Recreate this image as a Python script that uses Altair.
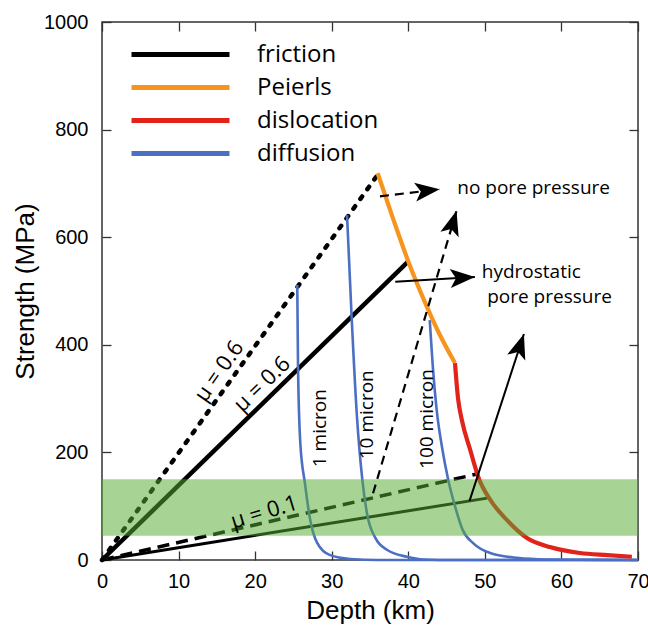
import math
import altair as alt
import pandas as pd

W, H = 536, 538
XMAX, YMAX = 70, 1000

# ---------------- data ----------------
x_ticks = [0, 10, 20, 30, 40, 50, 60, 70]
y_ticks = [0, 200, 400, 600, 800, 1000]

# friction (mu = 0.6 / 0.1, no pore pressure / hydrostatic)
fr_nopore_06_x = [0, 36.0]
fr_nopore_06_y = [0, 716]
fr_hydro_06_x = [0, 40.0]
fr_hydro_06_y = [0, 555]
fr_nopore_01_x = [0, 49.0]
fr_nopore_01_y = [0, 160]
fr_hydro_01_x = [0, 50.3]
fr_hydro_01_y = [0, 115]

# Peierls and dislocation creep
peierls_x = [36.0, 38.0, 40.0, 42.0, 44.0, 46.1]
peierls_y = [719, 635, 555, 485, 422, 366]
disloc_x = [46.1, 46.5, 47.0, 48.1, 49.2, 50.7, 52.9, 55.5, 58.5, 62.4, 66.0, 69.2]
disloc_y = [366, 300, 260, 204, 152, 112, 74, 41, 24, 13, 9, 6]

# diffusion creep for three grain sizes
diff1_x = [25.5, 25.6, 25.9, 26.5, 27.2, 28.1, 29.8, 32.4, 36.0, 70.0]
diff1_y = [511, 359, 217, 143, 74, 32, 9, 2, 0, 0]
diff10_x = [32.0, 32.6, 33.3, 34.0, 34.6, 35.7, 37.2, 39.8, 42.0, 46.0, 70.0]
diff10_y = [641, 452, 266, 149, 87, 41, 19, 6, 1, 0, 0]
diff100_x = [42.8, 43.2, 43.7, 44.4, 45.2, 46.2, 47.1, 48.5, 50.7, 54.2, 58.0, 70.0]
diff100_y = [446, 360, 280, 210, 150, 95, 56, 31, 13, 4, 1, 0]

mechanisms = ["friction", "Peierls", "dislocation", "diffusion"]
mech_colors = ["#000000", "#f7941d", "#e2231a", "#4b6fc2"]

# green band
band_lo, band_hi = 45, 150

# arrows (start -> tip)
arrow_x1 = [36.3, 35.4, 38.3, 48.0]
arrow_y1 = [676, 124, 517, 110]
arrow_x2 = [44.1, 46.3, 48.7, 55.1]
arrow_y2 = [689, 649, 526, 420]
arrow_dashed = [True, True, False, False]

# text annotations
note_text = ["no pore pressure", "hydrostatic", "pore pressure"]
note_x = [46.4, 49.6, 50.3]
note_y = [691, 535, 489]

mu_text = ["\u03bc = 0.6", "\u03bc = 0.6", "\u03bc = 0.1"]
mu_x = [15.3, 20.9, 21.2]
mu_y = [351, 327, 89]
mu_angle = [305, 316, 343]

grain_text = ["1 micron", "10 micron", "100 micron"]
grain_x = [28.5, 34.6, 42.4]
grain_y = [245, 270, 262]

# ---------------- helpers ----------------
AXF = "Liberation Sans"
TXF = "Open Sans"
xs = alt.Scale(domain=[0, XMAX], nice=False, zero=False)
ys = alt.Scale(domain=[0, YMAX], nice=False, zero=False)


def line_df(xv, yv, key="a", mech="friction"):
    return pd.DataFrame({"x": xv, "y": yv, "k": key, "mech": mech, "o": list(range(len(xv)))})


def X(axis=None, field="x"):
    return alt.X(f"{field}:Q", scale=xs, axis=axis)


def Y(axis=None, field="y"):
    return alt.Y(f"{field}:Q", scale=ys, axis=axis)


tick_common = dict(tickSize=9, tickWidth=1.3, tickColor="#333333", domain=False, grid=False)
ax_bottom = alt.Axis(orient="bottom", offset=-9, values=x_ticks, title="Depth (km)", format="d",
                     labelFont=AXF, labelFontSize=20, labelColor="black", labelPadding=11,
                     labelFlush=False, labelOverlap=False,
                     titleFont=AXF, titleFontSize=26, titleFontWeight="normal",
                     titleColor="black", titlePadding=6, **tick_common)
ax_left = alt.Axis(orient="left", offset=-9, values=y_ticks, title="Strength (MPa)", format="d",
                   labelFont=AXF, labelFontSize=20, labelColor="black", labelPadding=14,
                   labelFlush=False, labelOverlap=False,
                   titleFont=AXF, titleFontSize=26, titleFontWeight="normal",
                   titleColor="black", titlePadding=5, **tick_common)
ax_top = alt.Axis(orient="top", offset=-9, values=x_ticks, title=None, labels=False, **tick_common)
ax_right = alt.Axis(orient="right", offset=-9, values=y_ticks, title=None, labels=False, **tick_common)

# ---------------- layers ----------------
dotted = alt.Chart(line_df(fr_nopore_06_x, fr_nopore_06_y)).mark_line(
    color="black", strokeWidth=4.5, strokeDash=[3, 9], strokeCap="round"
).encode(x=X(), y=Y(), order="o:Q")

solid06 = alt.Chart(line_df(fr_hydro_06_x, fr_hydro_06_y)).mark_line(
    color="black", strokeWidth=4.5
).encode(x=X(ax_top), y=Y(ax_right), order="o:Q")

dashed01 = alt.Chart(line_df(fr_nopore_01_x, fr_nopore_01_y)).mark_line(
    color="black", strokeWidth=3.5, strokeDash=[12, 7]
).encode(x=X(), y=Y(), order="o:Q")

solid01 = alt.Chart(line_df(fr_hydro_01_x, fr_hydro_01_y)).mark_line(
    color="black", strokeWidth=3
).encode(x=X(), y=Y(), order="o:Q")

diff_df = pd.concat([
    line_df(diff1_x, diff1_y, "d1", "diffusion"),
    line_df(diff10_x, diff10_y, "d10", "diffusion"),
    line_df(diff100_x, diff100_y, "d100", "diffusion"),
])
diffusion = alt.Chart(diff_df).mark_line(color=mech_colors[3], strokeWidth=2.6,
                                         interpolate="monotone").encode(
    x=X(), y=Y(), detail="k:N", order="o:Q")

creep_df = pd.concat([
    line_df(peierls_x, peierls_y, "p", "Peierls"),
    line_df(disloc_x, disloc_y, "r", "dislocation"),
])
creep = alt.Chart(creep_df).mark_line(strokeWidth=4.2, interpolate="monotone").encode(
    x=X(), y=Y(), order="o:Q",
    color=alt.Color("mech:N", scale=alt.Scale(domain=mechanisms, range=mech_colors),
                    legend=alt.Legend(title=None, orient="none", legendX=66, legendY=20,
                                      symbolType="M-5,0L5,0", symbolSize=384,
                                      symbolStrokeWidth=5, labelFont=TXF, labelFontSize=24,
                                      labelColor="black", labelOffset=64, rowPadding=8,
                                      padding=0, symbolOpacity=1, labelLimit=300)))

band_df = pd.DataFrame({"x": [0], "x2": [XMAX], "y": [band_lo], "y2": [band_hi]})
band = alt.Chart(band_df).mark_rect(color="#57ad34", opacity=0.52).encode(
    x=X(ax_bottom), x2="x2:Q", y=Y(ax_left), y2="y2:Q")

sx, sy = W / XMAX, H / YMAX
arrows = []
heads = []
for i in range(len(arrow_x1)):
    arrows.append({"k": i, "x": arrow_x1[i], "y": arrow_y1[i], "o": 0, "dash": arrow_dashed[i]})
    arrows.append({"k": i, "x": arrow_x2[i], "y": arrow_y2[i], "o": 1, "dash": arrow_dashed[i]})
    dxp = (arrow_x2[i] - arrow_x1[i]) * sx
    dyp = (arrow_y2[i] - arrow_y1[i]) * sy
    ang = math.degrees(math.atan2(dxp, dyp)) % 360
    heads.append({"x": arrow_x2[i], "y": arrow_y2[i], "ang": ang})
arrow_df = pd.DataFrame(arrows)
head_df = pd.DataFrame(heads)

shaft_dash = alt.Chart(arrow_df[arrow_df.dash]).mark_line(
    color="black", strokeWidth=2.2, strokeDash=[9, 6]).encode(
    x=X(), y=Y(), detail="k:N", order="o:Q")
shaft_solid = alt.Chart(arrow_df[~arrow_df.dash]).mark_line(
    color="black", strokeWidth=2).encode(
    x=X(), y=Y(), detail="k:N", order="o:Q")
arrow_heads = alt.Chart(head_df).mark_point(
    shape="M0,0L1,2.6L0,2.0L-1,2.6Z", filled=True, color="black", size=360, opacity=1,
    strokeWidth=0).encode(x=X(), y=Y(), angle=alt.Angle("ang:Q", scale=None))

notes = alt.Chart(pd.DataFrame({"x": note_x, "y": note_y, "t": note_text})).mark_text(
    font=TXF, fontSize=19, align="left", baseline="middle", color="black").encode(
    x=X(), y=Y(), text="t:N")

mus = alt.Chart(pd.DataFrame({"x": mu_x, "y": mu_y, "t": mu_text, "a": mu_angle})).mark_text(
    font=TXF, fontSize=22, align="center", baseline="middle", color="black").encode(
    x=X(), y=Y(), text="t:N", angle=alt.Angle("a:Q", scale=None))

grains = alt.Chart(pd.DataFrame({"x": grain_x, "y": grain_y, "t": grain_text})).mark_text(
    font=TXF, fontSize=19, align="center", baseline="middle", color="black", angle=270).encode(
    x=X(), y=Y(), text="t:N")

chart = alt.layer(
    dotted, solid06, dashed01, solid01, diffusion, creep, band,
    shaft_dash, shaft_solid, arrow_heads, notes, mus, grains
).resolve_axis(x="independent", y="independent").properties(
    width=W, height=H,
    padding={"left": 102, "top": 22, "right": 10, "bottom": 65},
    autosize=alt.AutoSizeParams(type="none"),
    background="white",
).configure_view(stroke="#333333", strokeWidth=1.5)

chart.save("out.html", embed_options={"renderer": "svg", "actions": False})
